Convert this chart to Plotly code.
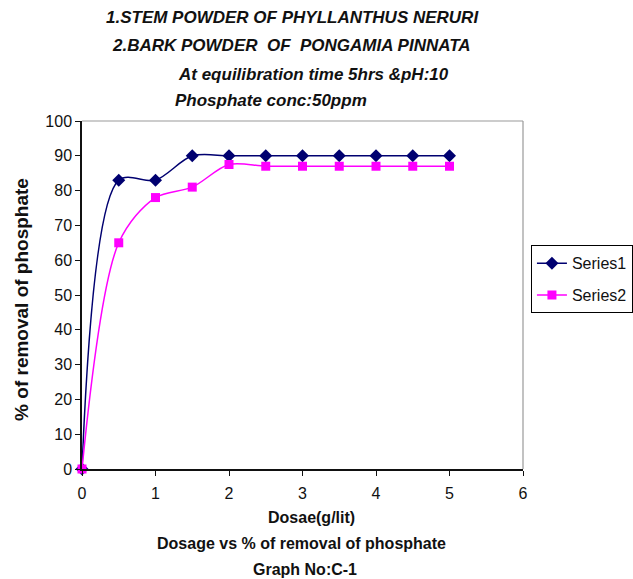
import plotly.graph_objects as go

# Dosage (g/lit) and % removal of phosphate for each adsorbent
dosage = [0, 0.5, 1, 1.5, 2, 2.5, 3, 3.5, 4, 4.5, 5]
series1 = [0, 83, 83, 90, 90, 90, 90, 90, 90, 90, 90]
series2 = [0, 65, 78, 81, 87.5, 87, 87, 87, 87, 87, 87]

title_lines = [
    "1.STEM POWDER OF PHYLLANTHUS NERURI",
    "2.BARK POWDER  OF  PONGAMIA PINNATA",
    "At equilibration time 5hrs &pH:10",
    "Phosphate conc:50ppm",
]
x_title = "Dosae(g/lit)"
y_title = "% of removal of phosphate"
caption_lines = ["Dosage vs % of removal of phosphate", "Graph No:C-1"]

NARROW = "Liberation Sans Narrow, Arial Narrow, Liberation Sans, Arial, sans-serif"
SANS = "Liberation Sans, Arial, sans-serif"

fig = go.Figure()
fig.add_trace(go.Scatter(
    x=dosage, y=series1, name="Series1", mode="lines+markers", legendgroup="s1",
    line=dict(color="#000070", width=1.5, shape="spline", smoothing=0.9),
    marker=dict(symbol="diamond", size=10, color="#000070"),
    cliponaxis=False,
))
fig.add_trace(go.Scatter(
    x=dosage, y=series2, name="Series2", mode="lines+markers", legendgroup="s2",
    line=dict(color="#FF00FF", width=1.5, shape="spline", smoothing=0.9),
    marker=dict(symbol="square", size=9, color="#FF00FF"),
    cliponaxis=False,
))

fig.update_layout(
    width=633, height=579,
    margin=dict(l=82, r=110, t=121, b=110, autoexpand=False),
    paper_bgcolor="white", plot_bgcolor="white",
    font=dict(family=NARROW, size=15, color="#111"),
    showlegend=True,
    legend=dict(
        x=1.018, y=0.643, xanchor="left", yanchor="top",
        bordercolor="black", borderwidth=1, bgcolor="white",
        font=dict(family=SANS, size=16, color="#111"),
        traceorder="grouped", tracegroupgap=8,
    ),
    xaxis=dict(
        range=[0, 6], tickmode="linear", tick0=0, dtick=1,
        showgrid=False, zeroline=False, showline=True, linecolor="#111", linewidth=1.5,
        ticks="outside", ticklen=5, tickcolor="#111", ticklabelstandoff=4,
        tickfont=dict(family=NARROW, size=16),
    ),
    yaxis=dict(
        range=[0, 100], tickmode="linear", tick0=0, dtick=10,
        showgrid=False, zeroline=False, showline=True, linecolor="#111", linewidth=1.5,
        ticks="outside", ticklen=5, tickcolor="#111",
        tickfont=dict(family=NARROW, size=16),
    ),
)

# gray frame on the top and right of the plot area
fig.add_shape(type="line", xref="paper", yref="paper", x0=0, x1=1, y0=1, y1=1,
              line=dict(color="#999", width=1.2))
fig.add_shape(type="line", xref="paper", yref="paper", x0=1, x1=1, y0=0, y1=1,
              line=dict(color="#999", width=1.2))

title_pos = [(0.478, 1.296), (0.476, 1.216), (0.524, 1.135), (0.429, 1.060)]
for text, (px, py) in zip(title_lines, title_pos):
    fig.add_annotation(text=f"<b><i>{text}</i></b>", xref="paper", yref="paper",
                       x=px, y=py, xanchor="center", yanchor="middle", showarrow=False,
                       font=dict(family=NARROW, size=17, color="#111"))

fig.add_annotation(text=f"<b>{x_title}</b>", xref="paper", yref="paper",
                   x=0.52, y=-0.138, xanchor="center", yanchor="middle", showarrow=False,
                   font=dict(family=NARROW, size=16, color="#111"))
for text, px, py in zip(caption_lines, [0.497, 0.506], [-0.213, -0.290]):
    fig.add_annotation(text=f"<b>{text}</b>", xref="paper", yref="paper",
                       x=px, y=py, xanchor="center", yanchor="middle", showarrow=False,
                       font=dict(family=NARROW, size=16, color="#111"))

fig.add_annotation(text=f"<b>{y_title}</b>", xref="paper", yref="paper",
                   x=-0.136, y=0.486, xanchor="center", yanchor="middle", textangle=-90,
                   showarrow=False, font=dict(family=SANS, size=19, color="#111"))

fig.write_html("out.html")
